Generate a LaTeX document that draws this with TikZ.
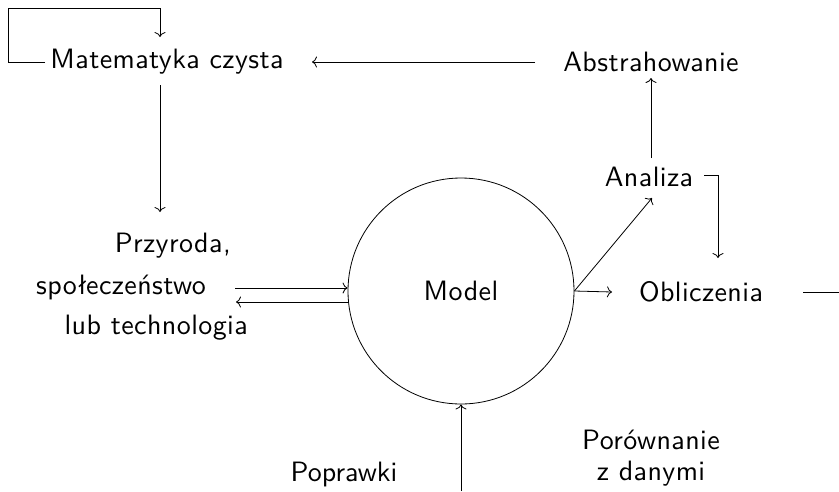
\documentclass[tikz,border=0pt]{standalone}
\usepackage{fontspec}
\newfontfamily\trksans{lmsans10-regular.otf}[LetterSpace=1.5]
\newfontfamily\plsans{lmsans10-regular.otf}
\usetikzlibrary{arrows.meta}
\begin{document}
\begin{tikzpicture}[x=1pt,y=-1pt,
  plain/.style={inner sep=0pt,font=\plsans\fontsize{28}{34}\selectfont},
  lbl/.style={inner sep=0pt,font=\trksans\fontsize{28}{34}\selectfont},
  conn/.style={line width=0.8pt},
  arr/.style={conn,-{To[length=5pt,width=11pt]}}]
\useasboundingbox (0,0) rectangle (839,491);
% nodes
\node[lbl] (mat) at (167,62) {Matematyka czysta};
\node[lbl] (abs) at (651,62) {Abstrahowanie};
\node[lbl] (ana) at (649,177) {Analiza};
\node[lbl] (obl) at (701,292) {Obliczenia};
\node[circle,draw,line width=0.8pt,minimum size=226pt,inner sep=0pt,font=\trksans\fontsize{28}{34}\selectfont] (model) at (461,291) {Model};
\node[lbl,anchor=east] (prz1) at (231,246) {Przyroda,};
\node[lbl,anchor=west] (prz2) at (36,287) {społeczeństwo};
\node[lbl,anchor=east] (prz3) at (248,328) {lub technologia};
\node[plain] (pop) at (344,474) {Poprawki};
\node[lbl] (por1) at (651,440) {Porównanie};
\node[lbl] (por2) at (651,474) {z danymi};
% coordinates for free ends
\coordinate (loopA) at (45,62);
\coordinate (loopC) at (8,8);
\coordinate (loopT) at (160,37);
\coordinate (matB) at (160,85);
\coordinate (przT) at (160,212);
\coordinate (absL) at (535,62);
\coordinate (matR) at (312,62);
\coordinate (inS) at (235,288);
\coordinate (outE) at (236,302);
\coordinate (anaT) at (652,198);
\coordinate (anaU) at (651,158);
\coordinate (absB) at (651,78);
\coordinate (anaR) at (704,175);
\coordinate (anaC) at (718,175);
\coordinate (oblT) at (718,258);
\coordinate (modR) at (612,292);
\coordinate (oblR) at (803,292);
\coordinate (edgeR) at (839,292);
\coordinate (botS) at (461,491);
% connectors
\draw[arr] (loopA) -| (loopC) -| (loopT);
\draw[arr] (absL) -- (matR);
\draw[arr] (matB) -- (przT);
\draw[arr] (inS) -- (model.west |- inS);
\draw[arr] (model.west |- outE) -- (outE);
\draw[arr] (model.east) -- (anaT);
\draw[arr] (anaU) -- (absB);
\draw[arr] (anaR) -- (anaC) -- (oblT);
\draw[arr] (model.east) -- (modR);
\draw[conn] (oblR) -- (edgeR);
\draw[arr] (botS) -- (model.south);
\end{tikzpicture}
\end{document}
